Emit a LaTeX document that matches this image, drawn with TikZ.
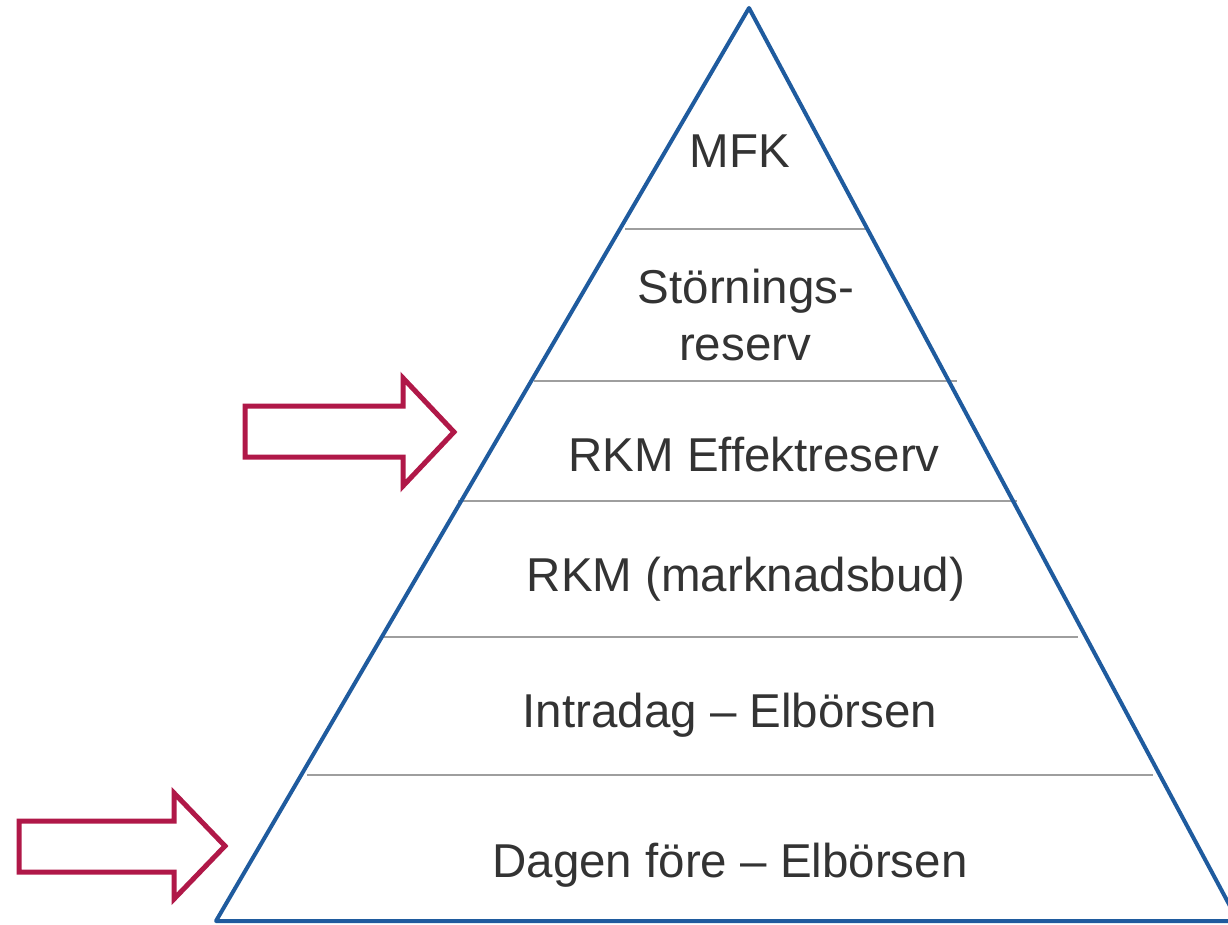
\documentclass[tikz,border=0pt]{standalone}
\usepackage{fontspec}
\setmainfont{Liberation Sans}
\definecolor{pyrblue}{RGB}{31,91,158}
\definecolor{arrred}{RGB}{176,24,72}
\definecolor{sepgray}{RGB}{158,158,158}
\definecolor{txtgray}{RGB}{51,51,51}
\tikzset{
  pyramid/.style={draw=pyrblue, line width=4pt, line join=round},
  sepline/.style={draw=sepgray, line width=2pt},
  bigarrow/.style={draw=arrred, line width=5pt, fill=white, line join=miter},
  label/.style={anchor=base, text=txtgray, inner sep=0pt, align=center,
    font=\fontsize{47.5}{57}\selectfont}
}
\begin{document}
\begin{tikzpicture}[x=1pt,y=-1pt]
\useasboundingbox (0,0) rectangle (1228,925);
\clip (0,0) rectangle (1228,925);
% separator lines
\draw[sepline] (625,229) -- (866,229);
\draw[sepline] (534,381) -- (957,381);
\draw[sepline] (458,501) -- (1017,501);
\draw[sepline] (383,637) -- (1078,637);
\draw[sepline] (307,775) -- (1153,775);
% pyramid
\coordinate (apex) at (749,8);
\coordinate (bl) at (216,921);
\coordinate (br) at (1238,921);
\draw[pyramid] (apex) -- (bl) -- (br) -- cycle;
% labels
\node[label] (mfk) at (740,168) {MFK};
\node[label] (stor) at (746,303) {Störnings-};
\node[label] (res) at (745,360) {reserv};
\node[label] (rkme) at (754,471) {RKM Effektreserv};
\node[label] (rkmm) at (746,591) {RKM (marknadsbud)};
\node[label] (intra) at (730,727) {Intradag – Elbörsen};
\node[label] (dagen) at (730,877) {Dagen före – Elbörsen};
% arrows
\draw[bigarrow] (245,406) -- (403,406) -- (403,378) -- (454,432) -- (403,486) -- (403,457) -- (245,457) -- cycle;
\draw[bigarrow] (19,821) -- (174,821) -- (174,793) -- (225,846) -- (174,899) -- (174,872) -- (19,872) -- cycle;
\end{tikzpicture}
\end{document}
